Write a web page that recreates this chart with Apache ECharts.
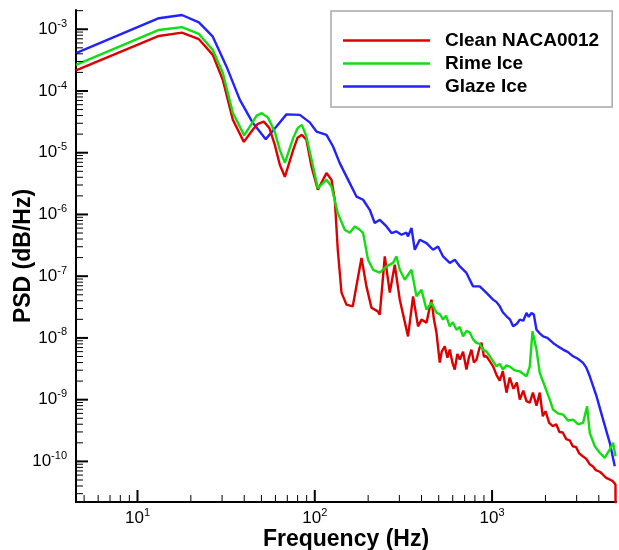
<!DOCTYPE html>
<html>
<head>
<meta charset="utf-8">
<script src="https://cdn.jsdelivr.net/npm/echarts@6/dist/echarts.min.js"></script>
<style>
  html, body { margin: 0; padding: 0; background: #fff; }
  #chart-container { width: 619px; height: 550px; }
</style>
</head>
<body>
<div id="chart-container"></div>
<script>
// [frequency Hz, PSD]
const cleanData = [
  [4.5, 2.15e-4], [13.2, 7.79e-4], [17.8, 8.81e-4], [22.2, 6.89e-4], [26.6, 3.84e-4],
  [30.3, 1.51e-4], [34.5, 3.41e-5], [39.8, 1.50e-5], [44.7, 2.35e-5], [47.5, 2.9e-5],
  [51.5, 3.20e-5], [55.5, 2.5e-5], [59.5, 1.34e-5], [63.5, 6.37e-6], [67.8, 4.07e-6],
  [75.6, 1.11e-5], [80, 1.75e-5], [84.5, 1.95e-5], [89.7, 1.62e-5], [95.8, 5.98e-6],
  [104, 2.51e-6], [106.7, 2.36e-6], [116.4, 4.68e-6],
  [124.2, 3.64e-6], [129.7, 1.73e-6], [134.8, 2.68e-7], [141.5, 5.41e-8], [150.9, 3.46e-8],
  [163.8, 3.25e-8], [183.4, 1.97e-7], [195.6, 6.84e-8], [208.8, 3.09e-8], [226.6, 2.69e-8],
  [232.6, 2.38e-8], [248.2, 2.09e-7], [264.9, 5.41e-8], [282.5, 1.53e-7], [301.6, 4.17e-8],
  [335.7, 1.06e-8], [358.5, 4.71e-8], [382.4, 1.54e-8], [399.7, 1.98e-8], [426.6, 1.77e-8],
  [455.1, 4.17e-8], [470, 2.0e-8], [485.7, 1.22e-8], [496, 7.0e-9], [507, 3.98e-9],
  [520, 6.0e-9], [541, 7.31e-9], [560, 4.8e-9], [577, 6.47e-9], [597, 4.0e-9],
  [616, 3.07e-9], [637, 5.5e-9], [658, 4.46e-9], [686, 6.0e-9], [717, 3.07e-9],
  [740, 4.8e-9], [765, 6.47e-9], [790, 4.0e-9], [817, 4.46e-9], [845, 6.5e-9],
  [871, 8.39e-9], [900, 5.0e-9], [930, 5.04e-9], [970, 4.2e-9], [1013, 3.47e-9],
  [1060, 2.5e-9], [1105, 2.04e-9], [1150, 2.9e-9], [1206, 1.30e-9], [1258, 2.28e-9],
  [1320, 1.5e-9], [1380, 1.9e-9], [1433, 1.00e-9], [1500, 1.4e-9], [1563, 9.5e-10],
  [1632, 8.97e-10], [1700, 1.3e-9], [1780, 8.0e-10], [1858, 1.30e-9], [1932, 5.39e-10],
  [2000, 6.5e-10], [2100, 4.2e-10], [2200, 3.72e-10], [2300, 4.0e-10], [2400, 3.0e-10],
  [2504, 2.94e-10], [2620, 2.3e-10], [2740, 2.2e-10], [2852, 1.76e-10], [2980, 1.7e-10],
  [3100, 1.35e-10], [3248, 1.21e-10], [3400, 1.1e-10], [3550, 9.0e-11], [3698, 8.36e-11],
  [3850, 7.2e-11], [4050, 6.8e-11], [4211, 6.14e-11], [4400, 5.4e-11], [4600, 5.1e-11],
  [4795, 4.79e-11], [4966, 4.23e-11], [4995, 1e-12]
];

const rimeData = [
  [4.5, 2.64e-4], [13.2, 9.74e-4], [17.8, 1.08e-3], [22.2, 8.39e-4], [26.6, 4.62e-4],
  [30.3, 1.96e-4], [34.5, 4.42e-5], [40, 1.91e-5], [44.7, 3.15e-5], [47, 4.0e-5],
  [50.2, 4.37e-5], [54.5, 3.7e-5], [59.5, 2.18e-5], [63.5, 1.11e-5], [67.8, 6.87e-6],
  [75.6, 1.74e-5], [80, 2.5e-5], [84.5, 2.83e-5], [89.7, 1.83e-5], [97.8, 5.98e-6],
  [104, 2.67e-6], [116.4, 3.64e-6], [124.2, 2.84e-6],
  [134.8, 1.05e-6], [147.6, 5.65e-7], [157.5, 5.06e-7], [168.1, 6.39e-7], [179.4, 5.65e-7],
  [187.3, 5.00e-7], [199.7, 1.85e-7], [213.3, 1.27e-7], [232.6, 1.14e-7], [253.8, 1.44e-7],
  [276.4, 1.64e-7], [288.9, 2.09e-7], [301.6, 1.27e-7], [321.8, 8.77e-8], [351.1, 1.27e-7],
  [374.6, 4.71e-8], [399.7, 6.05e-8], [426.6, 2.87e-8], [455.1, 3.72e-8], [485.7, 2.57e-8],
  [510, 2.4e-8], [529, 1.98e-8], [550, 2.3e-8], [577, 1.54e-8], [600, 1.8e-8],
  [630, 1.36e-8], [658, 1.5e-8], [686, 1.06e-8], [717, 1.3e-8], [749, 1.22e-8],
  [781, 9.5e-9], [817, 8.30e-9], [852, 8.0e-9], [890, 6.47e-9], [930, 6.0e-9],
  [971, 5.04e-9], [1013, 4.2e-9], [1059, 3.47e-9], [1105, 3.8e-9], [1153, 3.07e-9],
  [1206, 3.6e-9], [1258, 3.43e-9], [1340, 3.0e-9], [1433, 2.88e-9], [1500, 2.6e-9],
  [1563, 2.39e-9], [1632, 3.47e-9], [1690, 1.28e-8], [1780, 6.47e-9], [1858, 2.72e-9],
  [1983, 1.65e-9], [2116, 1.00e-9], [2208, 6.92e-10], [2350, 6.0e-10], [2514, 5.74e-10],
  [2680, 4.6e-10], [2863, 4.76e-10], [3050, 4.0e-10], [3261, 4.21e-10], [3435, 7.82e-10],
  [3557, 2.90e-10], [3796, 1.76e-10], [4050, 1.38e-10], [4322, 1.14e-10], [4612, 1.56e-10],
  [4814, 2.00e-10], [4966, 1.21e-10]
];

const glazeData = [
  [4.5, 4.09e-4], [13.2, 1.51e-3], [17.8, 1.70e-3], [22.2, 1.29e-3], [26.6, 7.59e-4],
  [31.8, 2.48e-4], [37.8, 7.18e-5], [44.7, 3.05e-5], [52.9, 1.66e-5], [60.8, 2.65e-5],
  [69.2, 4.18e-5], [82.3, 4.10e-5], [93.7, 3.10e-5], [102.2, 2.20e-5], [116.4, 1.95e-5],
  [126.8, 1.26e-5], [138.3, 6.79e-6], [157.5, 3.22e-6], [171.8, 1.95e-6], [187.3, 1.73e-6],
  [204.2, 1.19e-6], [217.8, 7.26e-7], [232.6, 8.20e-7], [253.8, 6.39e-7], [270.8, 5.00e-7],
  [288.9, 5.31e-7], [308.3, 4.69e-7], [328.9, 5.06e-7], [335.7, 4.41e-7], [351.1, 6.03e-7],
  [366.4, 2.68e-7], [391, 3.90e-7], [426.6, 3.44e-7], [464.7, 2.68e-7], [496, 3.03e-7],
  [529, 2.09e-7], [577, 1.64e-7], [616, 1.85e-7], [658, 1.44e-7], [717, 1.13e-7],
  [781, 6.84e-8], [852, 6.84e-8], [930, 5.35e-8], [1013, 4.17e-8], [1060, 3.8e-8],
  [1105, 3.25e-8], [1150, 2.6e-8], [1206, 2.24e-8], [1260, 2.0e-8], [1314, 1.54e-8],
  [1380, 1.7e-8], [1433, 1.98e-8], [1500, 1.9e-8], [1563, 2.54e-8], [1610, 2.2e-8],
  [1668, 2.54e-8], [1720, 2.4e-8], [1780, 1.36e-8], [1850, 1.2e-8], [1940, 1.06e-8],
  [2050, 1.0e-8], [2208, 8.30e-9], [2350, 7.3e-9], [2514, 6.47e-9], [2680, 5.9e-9],
  [2863, 5.04e-9], [3050, 4.6e-9], [3261, 3.94e-9], [3400, 3.3e-9], [3557, 2.39e-9],
  [3881, 1.14e-9], [4228, 4.76e-10], [4612, 2.00e-10], [4921, 8.36e-11]
];

const seriesNames = ['Clean NACA0012', 'Rime Ice', 'Glaze Ice'];
const seriesColors = ['#dd0000', '#11dd11', '#2222ff'];

const xMin = 4.5, xMax = 5000;
const yMin = 2.2e-11, yMax = 2.05e-3;

const xMajorTicks = [10, 100, 1000];
const yMajorTicks = [1e-10, 1e-9, 1e-8, 1e-7, 1e-6, 1e-5, 1e-4, 1e-3];
const mantissas = [2, 3, 4, 5, 6, 7, 8, 9];

// minor decade ticks inside the axis ranges
function minorTicks(lo, hi, e0, e1) {
  const out = [];
  for (let e = e0; e <= e1; e++) {
    mantissas.forEach(function (m) {
      const v = m * Math.pow(10, e);
      if (v > lo && v < hi) out.push(v);
    });
  }
  return out;
}
const xMinorTicks = minorTicks(xMin, xMax, 0, 3);
const yMinorTicks = minorTicks(yMin, yMax, -11, -3);

const font = '"Liberation Sans", Arial, Helvetica, sans-serif';

function powLabel(v) {
  const e = Math.round(Math.log10(v));
  const p = Math.pow(10, e);
  if (Math.abs(v - p) / p > 1e-6) return '';
  return '10{s|' + e + '}';
}

const chart = echarts.init(document.getElementById('chart-container'));

const tickRender = function (isX) {
  return function (params, api) {
    const p = api.coord([api.value(0), api.value(1)]);
    const len = api.value(2);
    const shape = isX
      ? { x1: p[0], y1: p[1], x2: p[0], y2: p[1] - len }
      : { x1: p[0], y1: p[1], x2: p[0] + len, y2: p[1] };
    return {
      type: 'line',
      shape: shape,
      style: { stroke: '#000', lineWidth: len > 10 ? 2 : 1 }
    };
  };
};

const labelStyle = {
  color: '#000',
  fontFamily: font,
  fontSize: 17,
  lineHeight: 22,
  formatter: powLabel,
  rich: {
    s: { fontSize: 11, lineHeight: 22, verticalAlign: 'top', fontFamily: font, color: '#000' }
  }
};

const lineSeries = [cleanData, rimeData, glazeData].map(function (d, i) {
  return {
    name: seriesNames[i], type: 'line', data: d, symbol: 'none',
    color: seriesColors[i], lineStyle: { width: 2.4, color: seriesColors[i] },
    z: [3, 4, 2][i]
  };
});

const option = {
  animation: false,
  backgroundColor: '#fff',
  grid: { left: 76, right: 3, top: 10, bottom: 48, containLabel: false, outerBoundsMode: 'none' },
  legend: {
    data: seriesNames,
    orient: 'vertical',
    left: 331,
    top: 11,
    padding: [20, 13, 11, 12],
    icon: 'rect',
    itemWidth: 87,
    itemHeight: 2.5,
    itemGap: 4,
    borderColor: '#a8a8a8',
    borderWidth: 1.5,
    textStyle: {
      color: '#000', fontFamily: font, fontSize: 19, fontWeight: 'bold',
      lineHeight: 19, padding: [0, 0, 0, 10]
    }
  },
  xAxis: {
    type: 'log',
    logBase: 10,
    min: xMin,
    max: xMax,
    name: 'Frequency (Hz)',
    nameLocation: 'middle',
    nameGap: 26,
    nameMoveOverlap: false,
    nameTextStyle: { color: '#000', fontFamily: font, fontSize: 23, fontWeight: 'bold', verticalAlign: 'top' },
    axisLine: { lineStyle: { color: '#000', width: 2 } },
    axisTick: { show: false },
    splitLine: { show: false },
    axisLabel: Object.assign({ margin: 5 }, labelStyle)
  },
  yAxis: {
    type: 'log',
    logBase: 10,
    min: yMin,
    max: yMax,
    name: 'PSD (dB/Hz)',
    nameLocation: 'middle',
    nameGap: 41,
    nameMoveOverlap: false,
    nameTextStyle: { color: '#000', fontFamily: font, fontSize: 23, fontWeight: 'bold' },
    axisLine: { show: true, lineStyle: { color: '#000', width: 2 } },
    axisTick: { show: false },
    splitLine: { show: false },
    axisLabel: Object.assign({ margin: 9 }, labelStyle)
  },
  series: lineSeries.concat([
    {
      name: 'xticks', type: 'custom', silent: true, clip: false, z: 5,
      renderItem: tickRender(true),
      data: xMajorTicks.map(v => [v, yMin, 12]).concat(xMinorTicks.map(v => [v, yMin, 7]))
    },
    {
      name: 'yticks', type: 'custom', silent: true, clip: false, z: 5,
      renderItem: tickRender(false),
      data: yMajorTicks.map(v => [xMin, v, 12]).concat(yMinorTicks.map(v => [xMin, v, 7]))
    }
  ])
};

chart.setOption(option);
</script>
</body>
</html>
